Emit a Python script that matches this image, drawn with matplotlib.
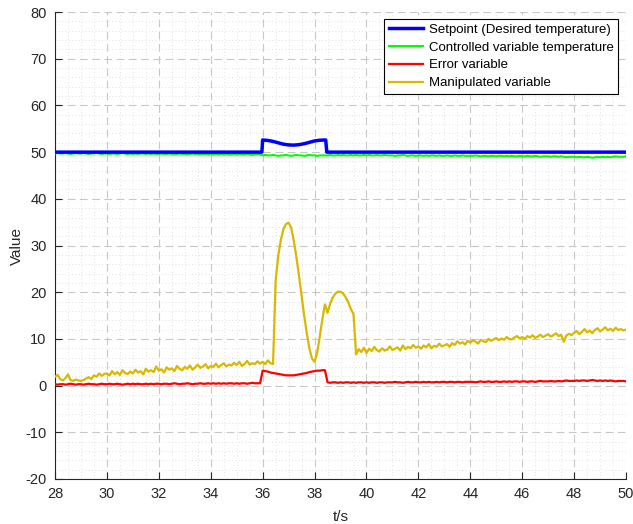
import numpy as np
import matplotlib
matplotlib.use("Agg")
import matplotlib.pyplot as plt
from matplotlib.ticker import MultipleLocator

plt.rcParams['font.family'] = ['Liberation Sans', 'DejaVu Sans']
plt.rcParams['axes.unicode_minus'] = False

# ---------------- data ----------------
t_start, t_step = 28.0, 0.1

# Setpoint (desired temperature)
t_sp = [28.0, 35.97, 36.0, 36.2, 36.4, 36.6, 36.8, 37.0, 37.2, 37.4, 37.6, 37.8,
        38.0, 38.2, 38.43, 38.47, 50.0]
setpoint = [50.0, 50.0, 52.6, 52.5, 52.3, 52.0, 51.7, 51.55, 51.5, 51.6, 51.8, 52.1,
            52.4, 52.55, 52.6, 50.0, 50.0]

# Controlled variable temperature (0.1 s samples)
controlled = [
    49.7, 49.8, 49.7, 49.7, 49.8, 49.7, 49.6, 49.7, 49.8, 49.7,
    49.7, 49.8, 49.7, 49.6, 49.7, 49.7, 49.8, 49.7, 49.6, 49.7,
    49.7, 49.6, 49.7, 49.7, 49.6, 49.7, 49.8, 49.7, 49.6, 49.7,
    49.6, 49.7, 49.6, 49.7, 49.7, 49.6, 49.7, 49.6, 49.7, 49.6,
    49.6, 49.7, 49.6, 49.6, 49.7, 49.6, 49.5, 49.6, 49.7, 49.6,
    49.6, 49.5, 49.6, 49.7, 49.6, 49.6, 49.5, 49.6, 49.6, 49.5,
    49.6, 49.5, 49.6, 49.5, 49.6, 49.5, 49.6, 49.5, 49.5, 49.6,
    49.5, 49.6, 49.5, 49.5, 49.6, 49.5, 49.4, 49.5, 49.5, 49.5,
    49.3, 49.4, 49.3, 49.3, 49.4, 49.3, 49.2, 49.3, 49.3, 49.4,
    49.3, 49.2, 49.3, 49.4, 49.3, 49.3, 49.2, 49.3, 49.4, 49.3,
    49.3, 49.2, 49.3, 49.3, 49.3, 49.3, 49.4, 49.3, 49.3, 49.4,
    49.3, 49.4, 49.3, 49.3, 49.4, 49.3, 49.4, 49.3, 49.3, 49.4,
    49.3, 49.4, 49.3, 49.3, 49.4, 49.3, 49.3, 49.4, 49.3, 49.3,
    49.3, 49.2, 49.3, 49.3, 49.4, 49.3, 49.2, 49.3, 49.3, 49.2,
    49.3, 49.3, 49.2, 49.3, 49.2, 49.3, 49.3, 49.2, 49.3, 49.2,
    49.2, 49.3, 49.2, 49.2, 49.3, 49.2, 49.2, 49.3, 49.2, 49.2,
    49.2, 49.2, 49.3, 49.2, 49.1, 49.2, 49.2, 49.1, 49.2, 49.2,
    49.1, 49.2, 49.2, 49.1, 49.2, 49.1, 49.2, 49.1, 49.1, 49.2,
    49.1, 49.1, 49.2, 49.1, 49.1, 49.2, 49.1, 49.0, 49.1, 49.1,
    49.1, 49.0, 49.1, 49.1, 49.0, 49.1, 49.0, 48.9, 49.0, 49.0,
    49.0, 48.9, 49.0, 48.9, 48.9, 49.0, 48.9, 48.8, 48.9, 49.0,
    48.9, 49.0, 48.9, 49.0, 48.9, 49.0, 49.1, 49.0, 49.0, 49.0,
    49.1,
]

# Error variable
error = [
    0.3, 0.2, 0.3, 0.3, 0.2, 0.3, 0.4, 0.3, 0.2, 0.3,
    0.3, 0.2, 0.3, 0.4, 0.3, 0.3, 0.2, 0.3, 0.4, 0.3,
    0.3, 0.4, 0.3, 0.3, 0.4, 0.3, 0.2, 0.3, 0.4, 0.3,
    0.4, 0.3, 0.4, 0.3, 0.3, 0.4, 0.3, 0.4, 0.3, 0.4,
    0.4, 0.3, 0.4, 0.4, 0.3, 0.4, 0.5, 0.4, 0.3, 0.4,
    0.4, 0.5, 0.4, 0.3, 0.4, 0.4, 0.5, 0.4, 0.4, 0.5,
    0.4, 0.5, 0.4, 0.5, 0.4, 0.5, 0.4, 0.5, 0.5, 0.4,
    0.5, 0.4, 0.5, 0.5, 0.4, 0.5, 0.6, 0.5, 0.5, 0.5,
    3.2, 3.1, 3.0, 2.8, 2.7, 2.6, 2.5, 2.4, 2.3, 2.2,
    2.2, 2.2, 2.2, 2.3, 2.4, 2.5, 2.6, 2.7, 2.9, 3.0,
    3.1, 3.2, 3.2, 3.3, 3.3, 0.7, 0.6, 0.7, 0.7, 0.6,
    0.7, 0.6, 0.7, 0.7, 0.6, 0.7, 0.6, 0.7, 0.7, 0.6,
    0.7, 0.6, 0.7, 0.7, 0.6, 0.7, 0.7, 0.6, 0.7, 0.7,
    0.7, 0.8, 0.7, 0.7, 0.6, 0.7, 0.8, 0.7, 0.7, 0.8,
    0.7, 0.7, 0.8, 0.7, 0.8, 0.7, 0.7, 0.8, 0.7, 0.8,
    0.8, 0.7, 0.8, 0.8, 0.7, 0.8, 0.8, 0.7, 0.8, 0.8,
    0.8, 0.8, 0.7, 0.8, 0.9, 0.8, 0.8, 0.9, 0.8, 0.8,
    0.9, 0.8, 0.8, 0.9, 0.8, 0.9, 0.8, 0.9, 0.9, 0.8,
    0.9, 0.9, 0.8, 0.9, 0.9, 0.8, 0.9, 1.0, 0.9, 0.9,
    0.9, 1.0, 0.9, 0.9, 1.0, 0.9, 1.0, 1.1, 1.0, 1.0,
    1.0, 1.1, 1.0, 1.1, 1.1, 1.0, 1.1, 1.2, 1.1, 1.0,
    1.1, 1.0, 1.1, 1.0, 1.1, 1.0, 0.9, 1.0, 1.0, 1.0,
    0.9,
]

# Manipulated variable
manipulated = [
    1.9, 2.3, 1.4, 1.1, 1.6, 2.4, 1.2, 1.0, 1.3, 1.1,
    1.0, 1.2, 1.5, 1.8, 1.4, 2.2, 1.9, 2.6, 2.1, 2.5,
    2.6, 2.2, 3.1, 2.4, 2.9, 2.3, 3.3, 2.7, 2.5, 3.0,
    2.6, 3.4, 2.8, 3.1, 2.4, 3.6, 3.0, 3.3, 2.9, 4.1,
    3.2, 3.5, 2.8, 3.9, 3.4, 3.7, 3.1, 4.2, 3.6, 3.3,
    4.0, 3.6, 4.3, 3.4, 3.9, 4.5, 3.8, 4.1, 4.6, 3.7,
    4.2, 4.0, 4.7, 3.9, 4.4, 4.8, 4.1, 4.5, 4.3, 4.9,
    4.4, 5.1, 4.2, 4.6, 5.3, 4.5, 4.8, 4.6, 5.2, 4.7,
    5.1, 4.6, 5.4, 4.8, 4.6, 22.5, 27.8, 31.2, 33.5, 34.6,
    34.9, 33.8, 31.0, 27.5, 23.5, 19.2, 15.0, 11.2, 8.0, 5.8,
    5.1, 7.0, 10.5, 14.2, 17.4, 15.6, 17.5, 18.9, 19.7, 20.1,
    20.1, 19.7, 18.9, 17.8, 16.4, 15.3, 6.7, 7.8, 7.2, 8.1,
    7.0, 7.9, 7.4, 8.3, 7.6, 7.3, 8.0, 7.5, 7.7, 8.4,
    7.6, 7.9, 8.2, 7.5, 8.6, 7.8, 8.3, 8.0, 8.7, 8.1,
    8.4, 7.9, 8.6, 8.2, 8.9, 8.0, 8.5, 8.3, 9.0, 8.4,
    8.6, 8.9, 8.3, 9.1, 8.7, 9.5, 9.0, 9.3, 8.8, 9.6,
    9.2, 9.7, 9.4, 9.0, 9.8, 9.5, 9.3, 10.0, 9.6, 9.9,
    10.2, 9.7, 10.1, 9.8, 10.4, 10.0, 9.9, 10.3, 10.6, 10.1,
    10.4, 10.0, 10.6, 10.3, 10.8, 10.2, 10.5, 10.9, 10.4, 10.7,
    11.0, 10.5, 10.8, 11.2, 10.6, 10.9, 9.4, 10.7, 11.1, 10.8,
    11.3, 11.7, 11.0, 11.5, 12.1, 11.4, 11.8, 11.2, 11.9, 12.3,
    11.6, 12.0, 12.5, 11.8, 12.2, 11.7, 12.4, 11.9, 12.1, 11.8,
    12.0,
]

labels = ["Setpoint (Desired temperature)", "Controlled variable temperature",
          "Error variable", "Manipulated variable"]

t = t_start + t_step * np.arange(len(manipulated))

# ---------------- plot ----------------
fig = plt.figure(figsize=(6.33, 5.24), dpi=100)
ax = fig.add_axes([0.0869, 0.0859, 0.9021, 0.8911])

ax.plot(t_sp, setpoint, color=(0, 0, 1), lw=2.5, label=labels[0], zorder=5)
ax.plot(t, controlled, color=(0, 1, 0), lw=1.5, label=labels[1], zorder=4)
ax.plot(t, error, color=(1, 0, 0), lw=1.6, label=labels[2], zorder=4)
ax.plot(t, manipulated, color='#d9b800', lw=1.6, label=labels[3], zorder=4)

ax.set_xlim(28, 50)
ax.set_ylim(-20, 80)
ax.xaxis.set_major_locator(MultipleLocator(2))
ax.xaxis.set_minor_locator(MultipleLocator(0.5))
ax.yaxis.set_major_locator(MultipleLocator(10))
ax.yaxis.set_minor_locator(MultipleLocator(2))

ax.grid(which='major', color='#c8c8c8', linestyle=(0, (7, 4)), linewidth=0.8)
ax.grid(which='minor', color='#d8d8d8', linestyle=(0, (1, 3)), linewidth=0.6)
ax.set_axisbelow(True)

for s in ['top', 'right']:
    ax.spines[s].set_visible(False)
for s in ['left', 'bottom']:
    ax.spines[s].set_color('#262626')
    ax.spines[s].set_linewidth(0.8)

ax.tick_params(which='major', direction='in', length=5, width=0.8,
               colors='#262626', labelsize=10.5, pad=6)
ax.tick_params(which='minor', length=0)

ax.set_xlabel('t/s', fontsize=11, color='#262626', labelpad=6)
ax.set_ylabel('Value', fontsize=11, color='#262626', labelpad=1)

leg = ax.legend(loc='upper right', bbox_to_anchor=(0.986, 0.985), fontsize=9.5,
                fancybox=False, framealpha=1, edgecolor='black',
                handlelength=2.6, handletextpad=0.4, borderpad=0.35,
                labelspacing=0.42, borderaxespad=0)
leg.get_frame().set_linewidth(0.8)

fig.savefig('out.png', dpi=100)
